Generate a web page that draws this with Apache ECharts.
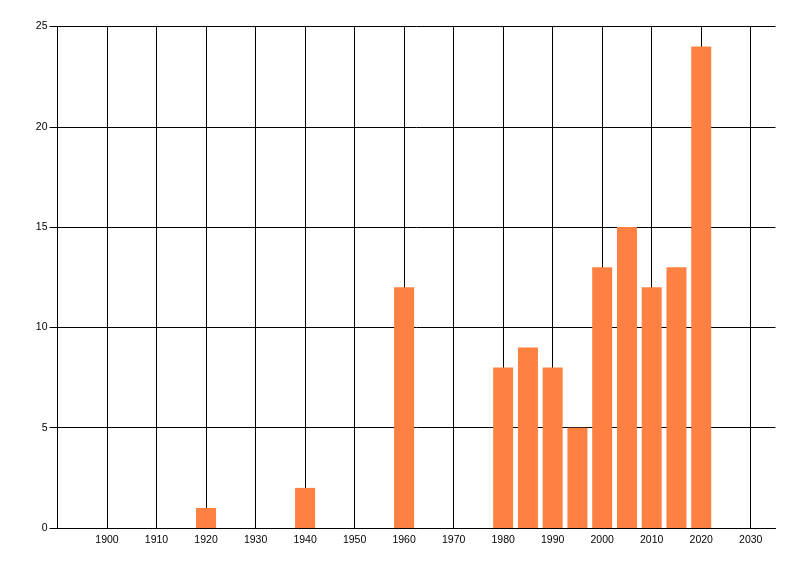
<!DOCTYPE html>
<html>
<head>
<meta charset="utf-8">
<script src="https://cdn.jsdelivr.net/npm/echarts@6/dist/echarts.min.js"></script>
<style>html,body{margin:0;padding:0;background:#fff}#c{width:800px;height:576px}</style>
</head>
<body>
<div id="c"></div>
<script>
const years = [1920, 1940, 1960, 1980, 1985, 1990, 1995, 2000, 2005, 2010, 2015, 2020];
const counts = [1, 2, 12, 8, 9, 8, 5, 13, 15, 12, 13, 24];
const xMin = 1890, xMax = 2035, xStep = 10;
const yMin = 0, yMax = 25, yStep = 5;

const chart = echarts.init(document.getElementById('c'), null, {renderer: 'canvas'});
chart.setOption({
  animation: false,
  backgroundColor: '#ffffff',
  grid: {left: 57.5, right: 24.5, top: 26.5, bottom: 48, containLabel: false},
  xAxis: {
    type: 'value', min: xMin, max: xMax, interval: xStep,
    axisLine: {show: true, lineStyle: {color: '#000', width: 1}},
    axisTick: {show: false},
    axisLabel: {
      color: '#000', fontFamily: 'Liberation Sans', fontSize: 10.5, margin: 7,
      showMaxLabel: false,
      formatter: v => (v === xMin ? '' : String(v))
    },
    splitLine: {show: true, showMinLine: false, showMaxLine: false, lineStyle: {color: '#000', width: 1}}
  },
  yAxis: {
    type: 'value', min: yMin, max: yMax, interval: yStep,
    axisLine: {show: true, lineStyle: {color: '#000', width: 1}},
    axisTick: {show: true, length: 8, lineStyle: {color: '#000'}},
    axisLabel: {color: '#000', fontFamily: 'Liberation Sans', fontSize: 10.5, margin: 10},
    splitLine: {show: true, lineStyle: {color: '#000', width: 1}}
  },
  series: [{
    type: 'bar',
    data: years.map((y, i) => [y, counts[i]]),
    barWidth: 20,
    itemStyle: {color: '#FF8142'}
  }]
});
</script>
</body>
</html>
